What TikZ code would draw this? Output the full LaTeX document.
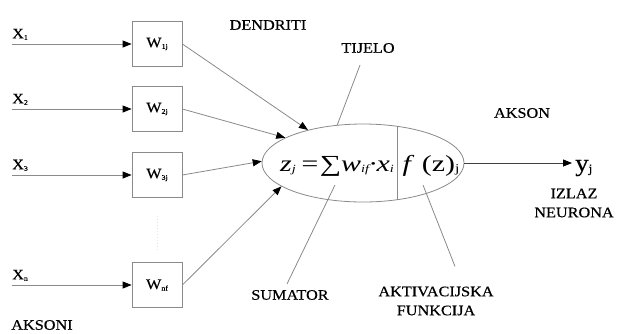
\documentclass[tikz,border=0pt]{standalone}
\usepackage{fontspec}
\setmainfont{Liberation Serif}[FakeStretch=1.12,FakeBold=0.4]
\newfontfamily\formfont{Liberation Serif}[FakeStretch=1.3]
\usetikzlibrary{arrows.meta,positioning,calc,shapes.geometric}
\definecolor{linegray}{HTML}{8A8A8A}
\newcommand{\lowsub}[2][7]{\raisebox{-1.5pt}{\fontsize{#1}{#1}\selectfont #2}}

\begin{document}
\begin{tikzpicture}[x=1pt,y=-1pt,
    lbl/.style={font=\fontsize{14.5}{19}\selectfont,inner sep=0pt,align=center},
    wbox/.style={draw=linegray,line width=0.8pt,minimum width=50pt,
                 minimum height=45pt,inner sep=0pt,font=\fontsize{14.5}{16}\selectfont},
    ln/.style={draw=linegray,line width=0.8pt},
    ar/.style={ln,-{Triangle[length=9pt,width=7pt,color=black]}}]
  \useasboundingbox (0,0) rectangle (617,333);
  % cell body
  \node[ellipse,draw=linegray,line width=0.8pt,minimum width=202pt,
        minimum height=78pt,inner sep=0pt] (body) at (363,163) {};
  \draw[ln] (body.47.2) -- (body.-47.2);
  \node[anchor=base,inner sep=0pt] (sum) at (337,171)
    {\formfont\fontsize{23}{24}\selectfont\itshape z\lowsub[11]{j}\,={\upshape ∑}w\lowsub[11]{if}·x\lowsub[11]{i}};
  \node[anchor=base,inner sep=0pt] (act) at (431,171)
    {\formfont\fontsize{23}{24}\selectfont\textit{f} (z)\lowsub[12]{j}};
  % inputs and weights
  \foreach \i/\y/\s/\a in {1/44/1j/149.5,2/109/2j/162,3/175/3j/179,n/285/nf/196} {
    \node[wbox] (w\i) at (157,\y) {W\lowsub{\s}};
    \coordinate (x\i) at (12,\y);
    \node[lbl,anchor=south west] (xl\i) at ([yshift=4pt]x\i) {X\lowsub{\i}};
    \draw[ar] (x\i) -- (w\i.west);
    \draw[ar] (w\i.east) -- (body.\a);
  }
  \draw[gray!20,dotted,line width=1pt] ([yshift=-18pt]w3.south) -- ([yshift=12pt]wn.north);
  % output
  \node[anchor=base west,inner sep=0pt] (out) at (575,171)
    {\fontsize{24}{26}\selectfont y\lowsub[12]{j}};
  \draw[ar,draw=black!75] (body.east) -- ([xshift=-3pt]out.west |- body.east);
  % labels
  \node[lbl] (dend) at (268,25) {DENDRITI};
  \node[lbl] (tij) at (368,48) {TIJELO};
  \draw[ln] ([xshift=-8pt,yshift=-12pt]tij.south) -- (body.124);
  \node[lbl] (sumr) at (290,295) {SUMATOR};
  \coordinate (sumpt) at (335,185);
  \draw[ln] ([xshift=-3pt,yshift=6pt]sumr.north) -- (sumpt);
  \node[lbl] (akt) at (436,301) {AKTIVACIJSKA\\FUNKCIJA};
  \coordinate (aktpt) at (423,185);
  \draw[ln] ([xshift=19pt,yshift=20pt]akt.north) -- (aktpt);
  \node[lbl] (akson) at (522,113) {AKSON};
  \node[lbl] (izlaz) at (574,203) {IZLAZ\\NEURONA};
  \node[lbl] (aksoni) at (42,325) {AKSONI};
\end{tikzpicture}
\end{document}
